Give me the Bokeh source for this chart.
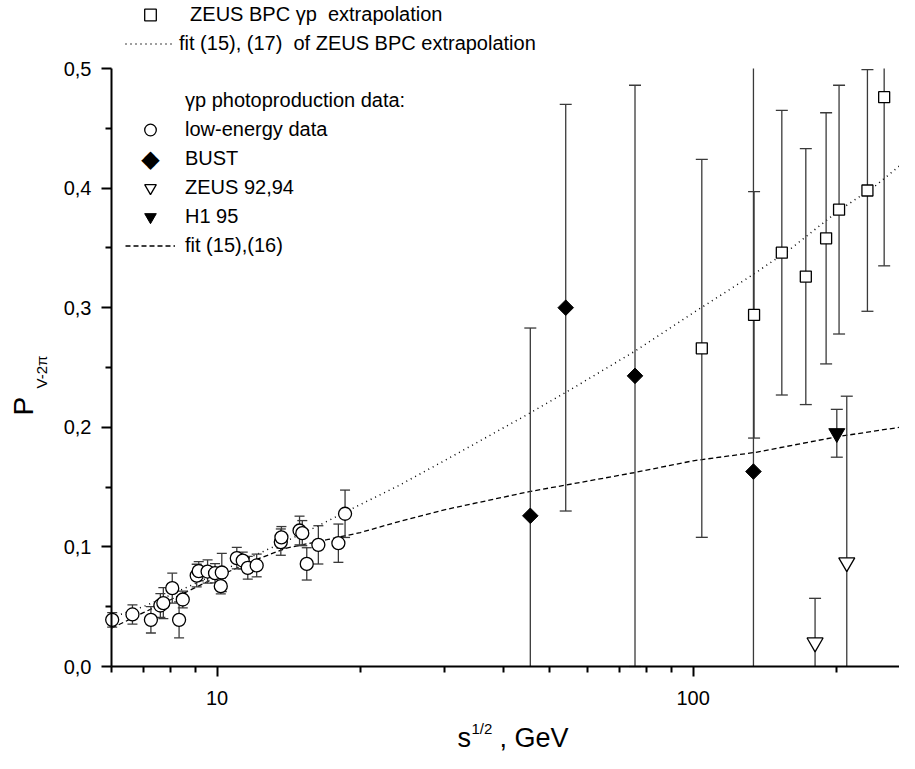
import math
from bokeh.plotting import figure
from bokeh.models import (FixedTicker, CustomJSTickFormatter, Legend, LegendItem,
                          Label, Range1d)
from bokeh.embed import file_html
from bokeh.resources import INLINE

FONT = "Liberation Sans"

# ---------------- data ----------------
low_x = [6.02, 6.64, 7.26, 7.6, 7.71, 8.05, 8.32, 8.47, 9.06, 9.15, 9.55, 9.90,
         10.23, 10.18, 11.0, 11.32, 11.6, 12.11, 13.61, 13.65, 14.9, 15.1, 15.43,
         16.32, 17.98, 18.57]
low_y = [0.039, 0.0435, 0.039, 0.051, 0.053, 0.0655, 0.039, 0.056, 0.076, 0.0797,
         0.0794, 0.078, 0.0786, 0.0672, 0.0906, 0.0886, 0.0825, 0.0845, 0.104,
         0.108, 0.1137, 0.1115, 0.0858, 0.1017, 0.1031, 0.1277]
low_err = [0.006, 0.008, 0.011, 0.010, 0.013, 0.0125, 0.015, 0.007, 0.0095, 0.008,
           0.0097, 0.008, 0.016, 0.0065, 0.009, 0.007, 0.0095, 0.0095, 0.011,
           0.009, 0.012, 0.0105, 0.0135, 0.016, 0.016, 0.0198]

bust_x = [45.5, 54.0, 75.5, 133.9]
bust_y = [0.126, 0.300, 0.243, 0.163]
bust_err = [0.157, 0.170, 0.243, 0.36]

bpc_x = [104.3, 134.3, 153.6, 172.5, 190.3, 202.6, 232.4, 252.0]
bpc_y = [0.266, 0.294, 0.346, 0.326, 0.358, 0.382, 0.398, 0.476]
bpc_err = [0.158, 0.103, 0.119, 0.107, 0.105, 0.104, 0.101, 0.141]

zeus_x = [180.4, 210.3]
zeus_y = [0.020, 0.087]
zeus_err = [0.037, 0.139]

h1_x = [200.4]
h1_y = [0.195]
h1_err = [0.020]

fit16_x = [6, 7, 8, 9, 10, 12, 14, 17, 20, 24, 30, 45, 60, 75, 100, 135, 200, 282]
fit16_y = [0.032, 0.045, 0.056, 0.066, 0.075, 0.089, 0.099, 0.106, 0.112, 0.121,
           0.131, 0.146, 0.155, 0.162, 0.172, 0.179, 0.192, 0.201]

fit17_x = [6, 7, 8, 10, 12, 14, 16, 19, 24, 30, 45, 55, 75, 104, 134, 160, 202, 240, 282]
fit17_y = [0.041, 0.050, 0.060, 0.078, 0.093, 0.105, 0.116, 0.131, 0.151, 0.172,
           0.211, 0.231, 0.263, 0.300, 0.328, 0.349, 0.381, 0.401, 0.424]

y_ticks = [0.0, 0.1, 0.2, 0.3, 0.4, 0.5]
y_minor = [0.05, 0.15, 0.25, 0.35, 0.45]
x_ticks = [10, 100]
x_minor = [6, 7, 8, 9, 20, 30, 40, 50, 60, 70, 80, 90, 200]

X_MIN, X_MAX = 6, 282
Y_MIN, Y_MAX = 0.0, 0.5

# ---------------- figure ----------------
# The frame covers the whole canvas; the axes are drawn at fixed locations so
# that titles and legends outside the data area are not clipped.
W, H = 899, 753
PX_DECADE = 476.0          # pixels per decade on the x axis
AX_LEFT = 111              # x axis start, canvas px
AX_BOTTOM = 666            # y = 0, canvas px from top
PX_UNIT_Y = 1196.0         # pixels per unit on the y axis
lx0 = math.log10(X_MIN) - AX_LEFT / PX_DECADE
lx1 = math.log10(X_MIN) + (W - AX_LEFT) / PX_DECADE
y0 = -(H - AX_BOTTOM) / PX_UNIT_Y
y1 = AX_BOTTOM / PX_UNIT_Y

p = figure(width=W, height=H, x_axis_type="log",
           x_range=Range1d(10 ** lx0, 10 ** lx1), y_range=Range1d(y0, y1),
           output_backend="svg", toolbar_location=None, min_border=0)
p.outline_line_color = None
p.grid.visible = False
p.background_fill_color = "white"
p.border_fill_color = "white"

for ax in (p.xaxis[0], p.yaxis[0]):
    ax.axis_line_width = 2
    ax.major_tick_line_width = 2
    ax.minor_tick_line_width = 2
    ax.major_tick_in = 0
    ax.major_tick_out = 10
    ax.minor_tick_in = 0
    ax.minor_tick_out = 6
    ax.major_label_text_font = FONT
    ax.major_label_text_font_size = "20px"
    ax.major_label_text_color = "black"

p.xaxis.fixed_location = Y_MIN
p.xaxis.bounds = (X_MIN, X_MAX)
p.xaxis.ticker = FixedTicker(ticks=x_ticks, minor_ticks=x_minor)
p.xaxis.formatter = CustomJSTickFormatter(code="return tick.toFixed(0)")
p.xaxis.major_label_standoff = 14
p.yaxis.fixed_location = X_MIN
p.yaxis.bounds = (Y_MIN, Y_MAX)
p.yaxis.ticker = FixedTicker(ticks=y_ticks, minor_ticks=y_minor)
p.yaxis.formatter = CustomJSTickFormatter(code="return tick.toFixed(1).replace('.', ',')")
p.yaxis.major_label_standoff = 10

# fit lines
r_fit16 = p.line(fit16_x, fit16_y, line_color="black", line_width=1.3, line_dash="5 3")
r_fit17 = p.line(fit17_x, fit17_y, line_color="black", line_width=1.5, line_dash="1 4")

ERR_C = "#3a3a3a"

def errbars(x, y, e, cap):
    lo = [a - b for a, b in zip(y, e)]
    hi = [a + b for a, b in zip(y, e)]
    # clip the bars at the data area like the original plot does
    lo_c = [max(v, Y_MIN) for v in lo]
    hi_c = [min(v, Y_MAX) for v in hi]
    p.segment(x0=x, y0=lo_c, x1=x, y1=hi_c, line_color=ERR_C, line_width=1.3)
    cx = [a for a, v in zip(x, lo) if v >= Y_MIN] + [a for a, v in zip(x, hi) if v <= Y_MAX]
    cy = [v for v in lo if v >= Y_MIN] + [v for v in hi if v <= Y_MAX]
    if cx:
        p.scatter(x=cx, y=cy, marker="dash", size=cap, line_color=ERR_C, line_width=1.3)

errbars(low_x, low_y, low_err, 10)
errbars(bust_x, bust_y, bust_err, 12)
errbars(bpc_x, bpc_y, bpc_err, 12)
errbars(zeus_x, zeus_y, zeus_err, 12)
errbars(h1_x, h1_y, h1_err, 12)

r_low = p.scatter(low_x, low_y, marker="circle", size=13, fill_color="white",
                  line_color="black", line_width=1.3)
r_bust = p.scatter(bust_x, bust_y, marker="square", angle=math.pi / 4, size=11,
                   fill_color="black", line_color="black")
r_bpc = p.scatter(bpc_x, bpc_y, marker="square", size=11, fill_color="white",
                  line_color="black", line_width=1.3)
r_zeus = p.scatter(zeus_x, zeus_y, marker="inverted_triangle", size=16,
                   fill_color="white", line_color="black", line_width=1.3)
r_h1 = p.scatter(h1_x, h1_y, marker="inverted_triangle", size=16,
                 fill_color="black", line_color="black")
r_blank = p.scatter([1], [-1], size=1, fill_alpha=0, line_alpha=0)

def style_legend(lg):
    lg.border_line_alpha = 0
    lg.background_fill_alpha = 0
    lg.padding = 0
    lg.margin = 0
    lg.spacing = 0
    lg.glyph_width = 50
    lg.glyph_height = 29
    lg.label_text_font = FONT
    lg.label_text_font_size = "20px"
    lg.label_text_color = "black"

# canvas coordinates (from top-left) -> screen units of the frame (from bottom-left)
def sx(px):
    return px

def sy(py):
    return H - py

LEG_X = 125
leg_in = Legend(items=[
    LegendItem(label="\u03b3p photoproduction data:", renderers=[r_blank]),
    LegendItem(label="low-energy data", renderers=[r_low]),
    LegendItem(label="BUST", renderers=[r_blank]),
    LegendItem(label="ZEUS 92,94", renderers=[r_zeus]),
    LegendItem(label="H1 95", renderers=[r_h1]),
    LegendItem(label="fit (15),(16)", renderers=[r_fit16]),
], location=(sx(LEG_X), sy(260)))
style_legend(leg_in)
leg_in.label_standoff = 10
p.add_layout(leg_in)

leg_top = Legend(items=[
    LegendItem(label="\u00a0\u00a0ZEUS BPC \u03b3p\u00a0\u00a0extrapolation", renderers=[r_bpc]),
    LegendItem(label="fit (15), (17)\u00a0\u00a0of ZEUS BPC extrapolation", renderers=[r_fit17]),
], location=(sx(LEG_X), sy(58)))
style_legend(leg_top)
leg_top.label_standoff = 4
p.add_layout(leg_top)

# BUST legend key: a filled diamond like the plotted markers
p.add_layout(Label(x=sx(LEG_X + 25), y=sy(86 + 29 * 2 + 14.5), x_units="screen",
                   y_units="screen", text="\u25c6", text_font="DejaVu Sans",
                   text_font_size="24px", text_align="center", text_baseline="middle",
                   text_color="black"))

# axis titles (Bokeh's alphabetic anchor sits ~0.36 em above the drawn baseline)
def lab(px, py, text, size, angle=0.0):
    fs = float(size.replace("px", ""))
    off = 0.36 * fs
    if angle:
        x, y = px - off, py
    else:
        x, y = px, py - off
    p.add_layout(Label(x=sx(x), y=sy(y), x_units="screen", y_units="screen", text=text,
                       text_font=FONT, text_font_size=size, angle=angle,
                       text_align="left", text_baseline="alphabetic",
                       text_color="black"))

lab(457, 747, "s", "27px")
lab(471, 733, "1/2", "15px")
lab(499, 747, ", GeV", "27px")
lab(33, 415, "P", "28px", math.pi / 2)
lab(46, 388, "V-2\u03c0", "15px", math.pi / 2)

open("out.html", "w").write(file_html(p, INLINE))
